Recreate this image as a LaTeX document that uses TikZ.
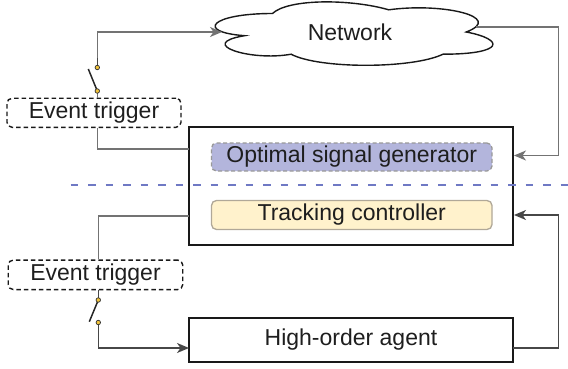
\documentclass[tikz,border=0pt]{standalone}
\usepackage{fontspec}
\setmainfont{Liberation Sans}
\usetikzlibrary{arrows.meta}
\definecolor{optfill}{HTML}{B3B5DC}
\definecolor{trkfill}{HTML}{FFF2CC}
\definecolor{trkline}{HTML}{B0A898}
\definecolor{dashblue}{HTML}{6F79C4}
\definecolor{contact}{HTML}{F0C23A}
\definecolor{txt}{HTML}{1E1E1E}
\begin{document}
\begin{tikzpicture}[x=1pt,y=-1pt,
  every node/.style={font=\fontsize{23}{27}\selectfont, text=txt, inner sep=0pt},
  block/.style={draw=black!90, line width=1.5pt, fill=white},
  trig/.style={draw=black!90, line width=1.4pt, dash pattern=on 4.5pt off 3pt, rounded corners=5pt},
  optbox/.style={draw=black!40, fill=optfill, line width=1.3pt, dash pattern=on 4pt off 2.5pt, rounded corners=5pt},
  trkbox/.style={draw=trkline, fill=trkfill, line width=1.3pt, rounded corners=5pt},
  conn/.style={draw=black!55, line width=1.4pt},
  darkconn/.style={draw=black!72, line width=1.4pt},
  tip/.style={-{Stealth[length=12pt,width=10pt,inset=3.5pt]}},
  dot/.style={circle, draw=black!80, fill=contact, line width=0.7pt, minimum size=4.5pt, inner sep=0pt},
  blade/.style={draw=black!85, line width=1.5pt}
]
\useasboundingbox (0,0) rectangle (568,369);

% cloud
\begin{scope}[shift={(195,-5)}, x=310pt, y=-74pt]
\draw[line width=1.4pt, draw=black!90, fill=white]
  (0.25,0.25) .. controls (0.05,0.25) and (0,0.5) .. (0.16,0.55)
  .. controls (0,0.66) and (0.18,0.9) .. (0.31,0.8)
  .. controls (0.4,1) and (0.7,1) .. (0.8,0.8)
  .. controls (1,0.8) and (1,0.6) .. (0.875,0.5)
  .. controls (1,0.3) and (0.8,0.1) .. (0.625,0.2)
  .. controls (0.5,0.05) and (0.3,0.05) .. (0.25,0.25) -- cycle;
\end{scope}
\node (net) at (350,32) {Network};

\coordinate (netin) at (222,32);
\coordinate (netout) at (476,27);

% blocks
\node[block, minimum width=324pt, minimum height=118pt] (main) at (351,186) {};
\node[optbox, minimum width=280.5pt, minimum height=28pt] (opt) at (351.75,157) {Optimal signal generator};
\node[trkbox, minimum width=280.5pt, minimum height=29pt] (trk) at (351.75,215) {Tracking controller};
\node[block, minimum width=324pt, minimum height=44pt] (agent) at (351,340) {High-order agent};

\node[trig, minimum width=174pt, minimum height=29pt] (trig1) at (94,112.8) {Event trigger};
\node[trig, minimum width=174.5pt, minimum height=29.5pt] (trig2) at (95.5,274.8) {Event trigger};

% dashed separator
\coordinate (sepL) at (70.5,185);
\coordinate (sepR) at (568,185);
\draw[dashblue, line width=2.8pt, dash pattern=on 7.5pt off 10pt] (sepL) -- (sepR);

% upper switch
\coordinate (s1top) at (97.3,67.5);
\coordinate (s1bot) at (97.3,91);
\coordinate (s1end) at (88.3,69);
\coordinate (m1) at (189,149);
\coordinate (m2) at (514,155.5);
\coordinate (rtop) at (558.5,27);

\draw[conn, tip] (s1top) |- (netin);
\draw[darkconn] (s1top) -- ++(0,-9);
\draw[conn] (trig1.north -| s1bot) -- (s1bot);
\draw[blade] (s1bot) -- (s1end);
\draw[conn] (trig1.south -| s1bot) |- (m1);
\draw[conn, tip] (netout) -- (rtop) |- (m2);
\node[dot] (d1) at (s1top) {};
\node[dot] (d2) at (s1bot) {};

% lower switch
\coordinate (s2top) at (98.3,300);
\coordinate (s2bot) at (98.3,322.5);
\coordinate (s2end) at (89.3,321.7);
\coordinate (m3) at (189,216);
\coordinate (a1) at (189,348);
\coordinate (a2) at (513,348);
\coordinate (m4) at (514,215);
\coordinate (rbot) at (558.5,348);

\draw[conn] (m3) -| (trig2.north -| s2top);
\draw[darkconn] (trig2.south -| s2top) -- (s2top);
\draw[blade] (s2top) -- (s2end);
\draw[darkconn, tip] (s2bot) |- (a1);
\draw[darkconn, tip] (a2) -- (rbot) |- (m4);
\node[dot] (d3) at (s2top) {};
\node[dot] (d4) at (s2bot) {};
\end{tikzpicture}
\end{document}
